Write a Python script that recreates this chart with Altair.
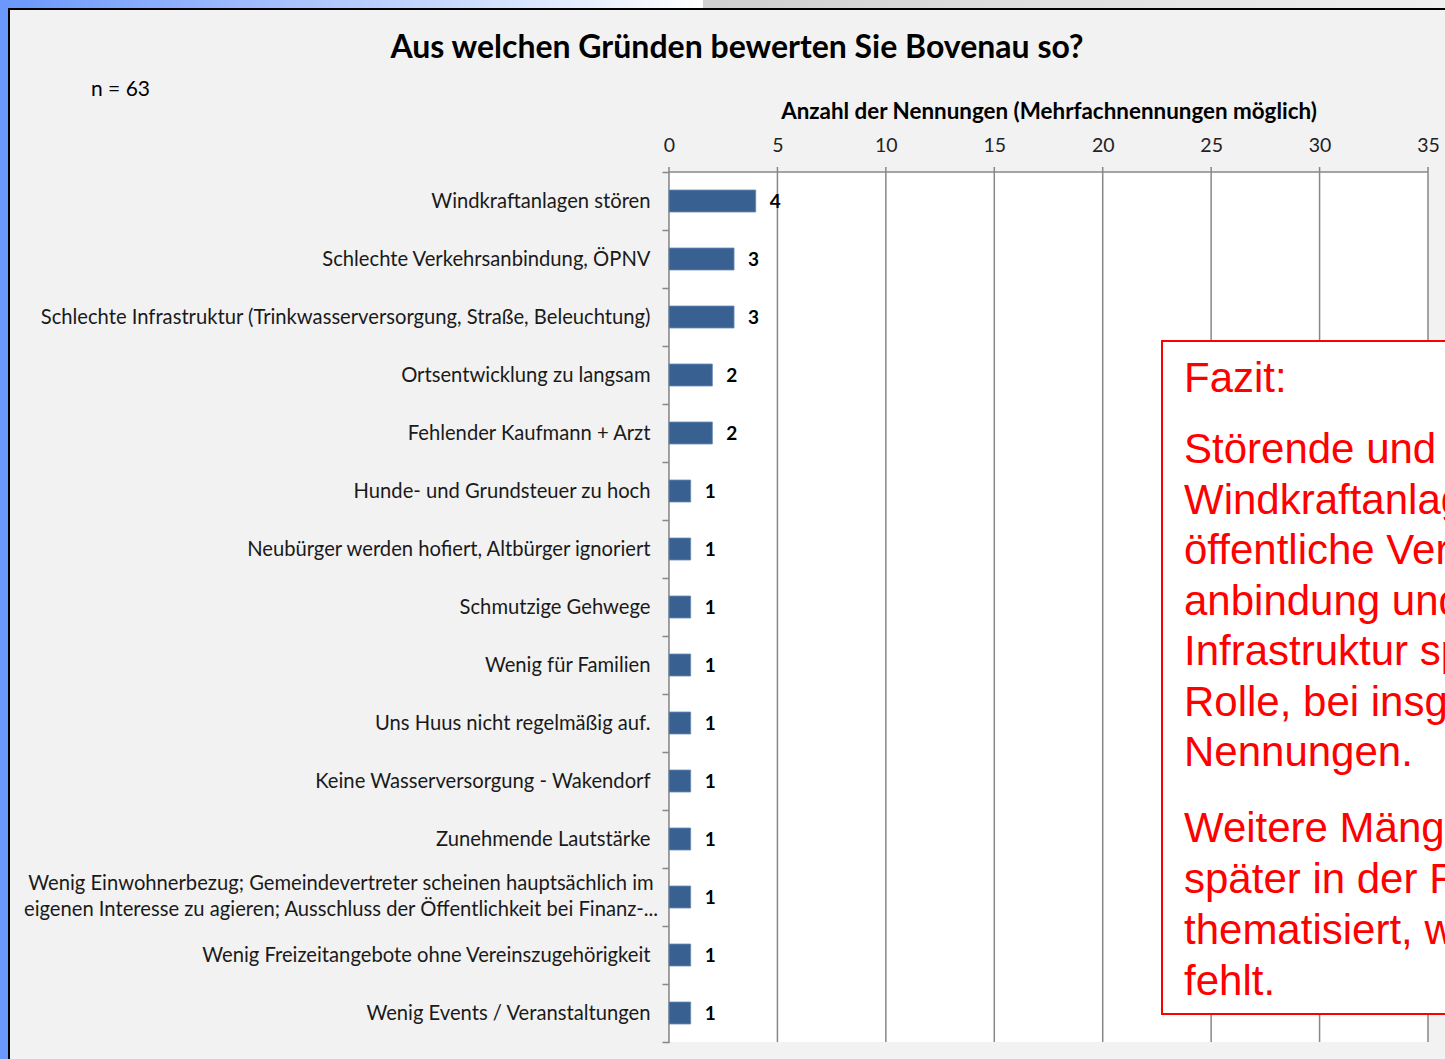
import altair as alt
import pandas as pd

# ---------------- data ----------------
categories = [
    "Windkraftanlagen stören",
    "Schlechte Verkehrsanbindung, ÖPNV",
    "Schlechte Infrastruktur (Trinkwasserversorgung, Straße, Beleuchtung)",
    "Ortsentwicklung zu langsam",
    "Fehlender Kaufmann + Arzt",
    "Hunde- und Grundsteuer zu hoch",
    "Neubürger werden hofiert, Altbürger ignoriert",
    "Schmutzige Gehwege",
    "Wenig für Familien",
    "Uns Huus nicht regelmäßig auf.",
    "Keine Wasserversorgung - Wakendorf",
    "Zunehmende Lautstärke",
    "Wenig Einwohnerbezug; Gemeindevertreter scheinen hauptsächlich im\neigenen Interesse zu agieren; Ausschluss der Öffentlichkeit bei Finanz-...",
    "Wenig Freizeitangebote ohne Vereinszugehörigkeit",
    "Wenig Events / Veranstaltungen",
]
counts = [4, 3, 3, 2, 2, 1, 1, 1, 1, 1, 1, 1, 1, 1, 1]
x_ticks = [0, 5, 10, 15, 20, 25, 30, 35]

title_text = "Aus welchen Gründen bewerten Sie Bovenau so?"
n_text = "n = 63"
axis_title_text = "Anzahl der Nennungen (Mehrfachnennungen möglich)"
fazit_head = "Fazit:"
fazit_par1 = ["Störende und", "Windkraftanlagen,", "öffentliche Verkehrs-", "anbindung und",
              "Infrastruktur spielen eine", "Rolle, bei insgesamt 24", "Nennungen."]
fazit_par2 = ["Weitere Mängel werden", "später in der Frage", "thematisiert, was hier", "fehlt."]

df = pd.DataFrame({"Grund": categories, "Anzahl": counts})
grid_df = pd.DataFrame({"v": x_ticks})
one = pd.DataFrame({"k": [0]})
multi = [c for c in categories if "\n" in c]
multi_df = pd.DataFrame({"Grund": multi})

# ---------------- layout ----------------
W, H = 776, 870
PAD_L, PAD_T = 669, 172
XMAX = 35 * W / 759.0
GRAY = "#878787"
LABEL_FONT = "Lato"
LABEL_SIZE = 20.2

xscale = alt.Scale(domain=[0, XMAX], nice=False, zero=True)
yscale = alt.Scale(domain=categories, paddingInner=0, paddingOuter=0)
xaxis = alt.Axis(
    orient="top", values=x_ticks, grid=False, domain=False, ticks=False,
    title=None, labelFont=LABEL_FONT, labelFontSize=19.5, labelColor="#222222",
    labelPadding=17, labelFlush=False, format="d",
)


def X(**kw):
    return alt.X(type="quantitative", scale=xscale, **kw)


# white plot background (0..35)
plot_bg = alt.Chart(one).mark_rect(fill="white").encode(
    x=X(datum=0), x2=alt.X2(datum=35), y=alt.value(0), y2=alt.value(H)
)

# vertical gridlines (extend a little above the axis line as ticks)
grid = alt.Chart(grid_df).mark_rule(color=GRAY, strokeWidth=1.5).encode(
    x=X(field="v"), y=alt.value(-5), y2=alt.value(H)
)

# top axis line
top_line = alt.Chart(one).mark_rule(color=GRAY, strokeWidth=1.5).encode(
    x=X(datum=0), x2=alt.X2(datum=35), y=alt.value(0)
)

bars = alt.Chart(df).mark_bar(size=22, color="#386192", stroke="#6a8cb8", strokeWidth=0.8).encode(
    x=X(field="Anzahl", axis=xaxis),
    y=alt.Y(
        "Grund:N",
        sort=categories,
        scale=yscale,
        axis=alt.Axis(
            title=None, tickBand="extent", tickSize=7, tickColor=GRAY, tickWidth=1.5,
            domainColor=GRAY, domainWidth=1.5, labelFont=LABEL_FONT, labelFontSize=LABEL_SIZE,
            labelColor="#1a1a1a", labelPadding=12, labelLimit=900,
            labelExpr="indexof(datum.label, '\\n') >= 0 ? '' : datum.label",
        ),
    ),
)

# the two-line category label (wrapped and centred, as in the original), drawn at its band
multi_label = alt.Chart(multi_df).mark_text(
    text=multi[0].split("\n"), align="center", baseline="middle", lineHeight=26, dy=-13,
    font=LABEL_FONT, fontSize=LABEL_SIZE, color="#1a1a1a",
).encode(x=alt.value(341 - PAD_L), y=alt.Y("Grund:N", sort=categories, scale=yscale))

values = alt.Chart(df).mark_text(
    align="left", baseline="middle", dx=14, dy=1, font=LABEL_FONT, fontSize=19, fontWeight="bold", color="black"
).encode(x=X(field="Anzahl"), y=alt.Y("Grund:N", sort=categories, scale=yscale), text="Anzahl:Q")

# red "Fazit" box
box = alt.Chart(one).mark_rect(fill="white", stroke="#ff0000", strokeWidth=2, clip=True).encode(
    x=alt.value(1162 - PAD_L), x2=alt.value(W + 30), y=alt.value(341 - PAD_T), y2=alt.value(1014 - PAD_T)
)


def box_text(txt, y, lh=None):
    kw = dict(align="left", baseline="alphabetic", font="Liberation Sans", fontSize=42,
              color="#ff0000", clip=True, text=txt)
    if lh:
        kw["lineHeight"] = lh
    return alt.Chart(one).mark_text(**kw).encode(x=alt.value(1184 - PAD_L), y=alt.value(y - PAD_T))


t_head = box_text(fazit_head, 392)
t_p1 = box_text(fazit_par1, 463, 50.5)
t_p2 = box_text(fazit_par2, 842, 51)


# ---------------- surrounding slide frame ----------------
def rect_px(x0, x1, y0, y1, **mk):
    return alt.Chart(one).mark_rect(**mk).encode(
        x=alt.value(x0 - PAD_L), x2=alt.value(x1 - PAD_L), y=alt.value(y0 - PAD_T), y2=alt.value(y1 - PAD_T)
    )


blue_grad = alt.Gradient(
    gradient="linear", x1=0, x2=1, y1=0, y2=0,
    stops=[alt.GradientStop(color="#6b98fb", offset=0), alt.GradientStop(color="#ffffff", offset=1)],
)
gray_grad = alt.Gradient(
    gradient="linear", x1=0, x2=1, y1=0, y2=0,
    stops=[alt.GradientStop(color="#cfcfcf", offset=0), alt.GradientStop(color="#f0f0f0", offset=1)],
)
frame = [
    rect_px(0, 8, 0, 1059, fill="#6b98fb"),
    rect_px(8, 703, 0, 8, fill=blue_grad),
    rect_px(703, 1445, 0, 8, fill=gray_grad),
    rect_px(8, 1445, 8, 10, fill="black"),
    rect_px(8, 10, 8, 1059, fill="black"),
]


def label_px(txt, x, y, size, bold=False, align="left"):
    return alt.Chart(one).mark_text(
        text=txt, align=align, baseline="middle", font=LABEL_FONT, fontSize=size,
        fontWeight="bold" if bold else "normal", color="black",
    ).encode(x=alt.value(x - PAD_L), y=alt.value(y - PAD_T))


title = label_px(title_text, 737, 48, 32, bold=True, align="center")
n_lbl = label_px(n_text, 91, 90, 21)
ax_title = label_px(axis_title_text, 1049, 112, 22.4, bold=True, align="center")

chart = alt.layer(
    *frame, plot_bg, grid, top_line, bars, multi_label, values, box, t_head, t_p1, t_p2, title, n_lbl, ax_title
).properties(
    width=W, height=H,
    autosize=alt.AutoSizeParams(type="none"),
    padding={"left": PAD_L, "top": PAD_T, "right": 0, "bottom": 1059 - PAD_T - H},
    background="#f2f2f2",
).configure_view(stroke=None, fill=None)

chart.save("out.html", embed_options={"renderer": "svg", "actions": False})
